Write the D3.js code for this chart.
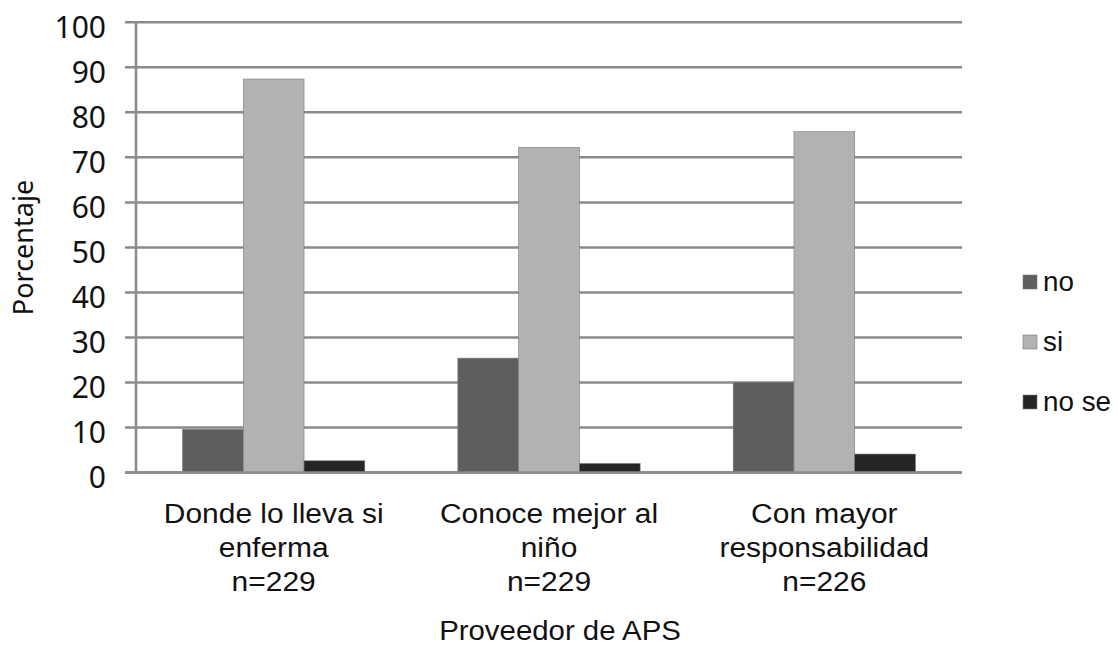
<!DOCTYPE html>
<html>
<head>
<meta charset="utf-8">
<script src="https://cdn.jsdelivr.net/npm/d3@7"></script>
<style>
  html, body { margin: 0; padding: 0; background: #fff; }
  svg { display: block; }
</style>
</head>
<body>
<svg id="chart" width="1118" height="645"></svg>
<script>
// Categories (multi-line labels) and series values in percent
const categories = ["Donde lo lleva si enferma", "Conoce mejor al niño", "Con mayor responsabilidad"];
const categoryLines = [
  ["Donde lo lleva si", "enferma", "n=229"],
  ["Conoce mejor al", "niño", "n=229"],
  ["Con mayor", "responsabilidad", "n=226"]
];
const seriesNames = ["no", "si", "no se"];
const noValues   = [9.6, 25.4, 20.0];
const siValues   = [87.4, 72.2, 75.7];
const noSeValues = [2.6, 2.0, 4.1];
const yTicks = [0, 10, 20, 30, 40, 50, 60, 70, 80, 90, 100];

const seriesValues = [noValues, siValues, noSeValues];
const colors = ["#5e5e5e", "#b2b2b2", "#252525"];

const svg = d3.select("#chart");
const m = { left: 136, right: 962, top: 22.3, bottom: 472.5 };

const x0 = d3.scaleBand().domain(categories).range([m.left, m.right]).paddingInner(0).paddingOuter(0);
const groupPad = 0.169;
const x1 = d3.scaleBand().domain(seriesNames)
  .range([x0.bandwidth() * groupPad, x0.bandwidth() * (1 - groupPad)]).padding(0);
const y = d3.scaleLinear().domain([0, 100]).range([m.bottom, m.top]);

const gridColor = "#8a8a8a";
const sans = "'Liberation Sans', Arial, sans-serif";

// Horizontal gridlines with tick stubs
svg.append("g").selectAll("line").data(yTicks).join("line")
  .attr("x1", m.left - 11).attr("x2", m.right)
  .attr("y1", d => y(d)).attr("y2", d => y(d))
  .attr("stroke", gridColor).attr("stroke-width", 2.5);

// Tick labels
svg.append("g").selectAll("text").data(yTicks).join("text")
  .attr("x", 106).attr("y", d => y(d) + 15.5)
  .attr("text-anchor", "end")
  .attr("font-family", "'Noto Sans', sans-serif")
  .attr("font-size", 30)
  .attr("fill", "#111")
  .text(d => d);

// Bars
const rows = [];
categories.forEach((c, i) => {
  seriesNames.forEach((s, j) => rows.push({ c, s, v: seriesValues[j][i], col: colors[j] }));
});
svg.append("g").selectAll("rect").data(rows).join("rect")
  .attr("x", d => x0(d.c) + x1(d.s))
  .attr("width", x1.bandwidth())
  .attr("y", d => y(d.v))
  .attr("height", d => y(0) - y(d.v))
  .attr("fill", d => d.col)
  .attr("stroke", "#7a7a7a")
  .attr("stroke-width", 0.6);

// Vertical axis line and baseline
svg.append("line")
  .attr("x1", m.left).attr("x2", m.left)
  .attr("y1", m.top).attr("y2", m.bottom)
  .attr("stroke", gridColor).attr("stroke-width", 2.5);
svg.append("line")
  .attr("x1", m.left - 11).attr("x2", m.right)
  .attr("y1", y(0)).attr("y2", y(0))
  .attr("stroke", gridColor).attr("stroke-width", 2.5);

// Category labels (slightly widened face)
const catG = svg.append("g")
  .attr("font-family", sans)
  .attr("font-size", 28).attr("fill", "#111").attr("text-anchor", "middle");
const lineY = [523, 556.5, 591];
categories.forEach((c, i) => {
  const cx = x0(c) + x0.bandwidth() / 2;
  categoryLines[i].forEach((ln, k) => {
    catG.append("text")
      .attr("transform", `translate(${cx},${lineY[k]}) scale(1.07,1)`)
      .text(ln);
  });
});

// Axis titles
svg.append("text")
  .attr("transform", `translate(${(m.left + m.right) / 2 + 11},640) scale(1.05,1)`)
  .attr("text-anchor", "middle")
  .attr("font-family", sans)
  .attr("font-size", 28).attr("fill", "#111")
  .text("Proveedor de APS");

svg.append("text")
  .attr("transform", "translate(33,247.5) rotate(-90)")
  .attr("text-anchor", "middle")
  .attr("font-family", "'Noto Sans', sans-serif")
  .attr("font-size", 27).attr("fill", "#111")
  .text("Porcentaje");

// Legend
const legend = svg.append("g");
seriesNames.forEach((s, j) => {
  const by = 291 + j * 60;
  legend.append("rect")
    .attr("x", 1023).attr("y", by - 16).attr("width", 14).attr("height", 14)
    .attr("fill", colors[j]).attr("stroke", "#7a7a7a").attr("stroke-width", 0.6);
  legend.append("text")
    .attr("transform", `translate(1043,${by}) scale(1.03,1)`)
    .attr("font-family", sans)
    .attr("font-size", 27).attr("fill", "#111")
    .text(s);
});
</script>
</body>
</html>
